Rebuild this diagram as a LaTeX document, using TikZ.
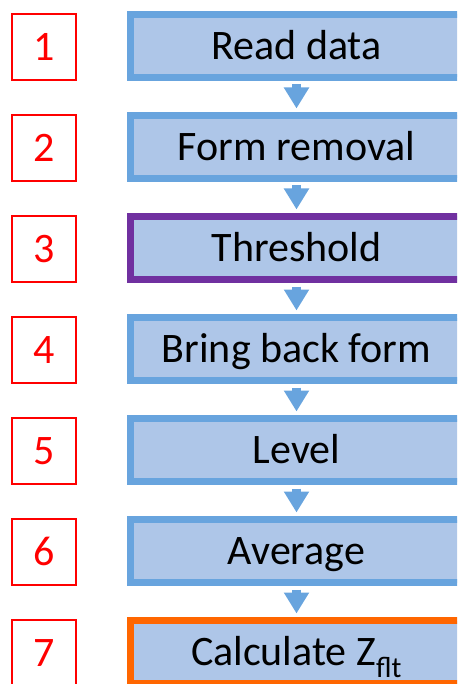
\documentclass[tikz,border=0pt]{standalone}
\usepackage{fontspec}
\setmainfont{Carlito}
\usetikzlibrary{arrows.meta}
\definecolor{stepline}{RGB}{104,164,222}
\definecolor{stepfill}{RGB}{174,198,232}
\definecolor{stepviolet}{RGB}{112,48,160}
\definecolor{steporange}{RGB}{255,102,0}
\tikzset{
  stepbox/.style={draw=stepline,fill=stepfill,line width=7pt,minimum width=332pt,
    minimum height=63pt,inner sep=0pt,text height=27pt,text depth=0pt,
    font=\fontsize{42}{50}\selectfont},
  numbox/.style={draw=red,text=red,line width=2pt,minimum width=64pt,
    minimum height=66pt,inner sep=0pt,text height=27pt,text depth=0pt,
    font=\fontsize{42}{50}\selectfont},
  flow/.style={draw=stepline,line width=9pt,-{Triangle[width=24pt,length=21pt]},
    shorten <=3.5pt,shorten >=3.5pt}
}
\begin{document}
\begin{tikzpicture}[x=1pt,y=-1pt]
\useasboundingbox (0,0) rectangle (457,684);
\clip (0,0) rectangle (457,684);
% processing steps
\foreach \i/\txt/\col in {1/Read data/stepline,2/Form removal/stepline,
  3/Threshold/stepviolet,4/Bring back form/stepline,5/Level/stepline,
  6/Average/stepline,7/{Calculate Z\textsubscript{flt}}/steporange}
{
  \node[stepbox,draw=\col] (s\i) at (296.5,{46+101*(\i-1)}) {\txt};
  \node[numbox] (n\i) at (43.9,{46.9+101*(\i-1)}) {\i};
}
%%%%
\foreach \i in {1,...,6}
{
  \pgfmathtruncatemacro\j{\i+1}
  \draw[flow] (s\i.south) -- (s\j.north);
}
\end{tikzpicture}
\end{document}
